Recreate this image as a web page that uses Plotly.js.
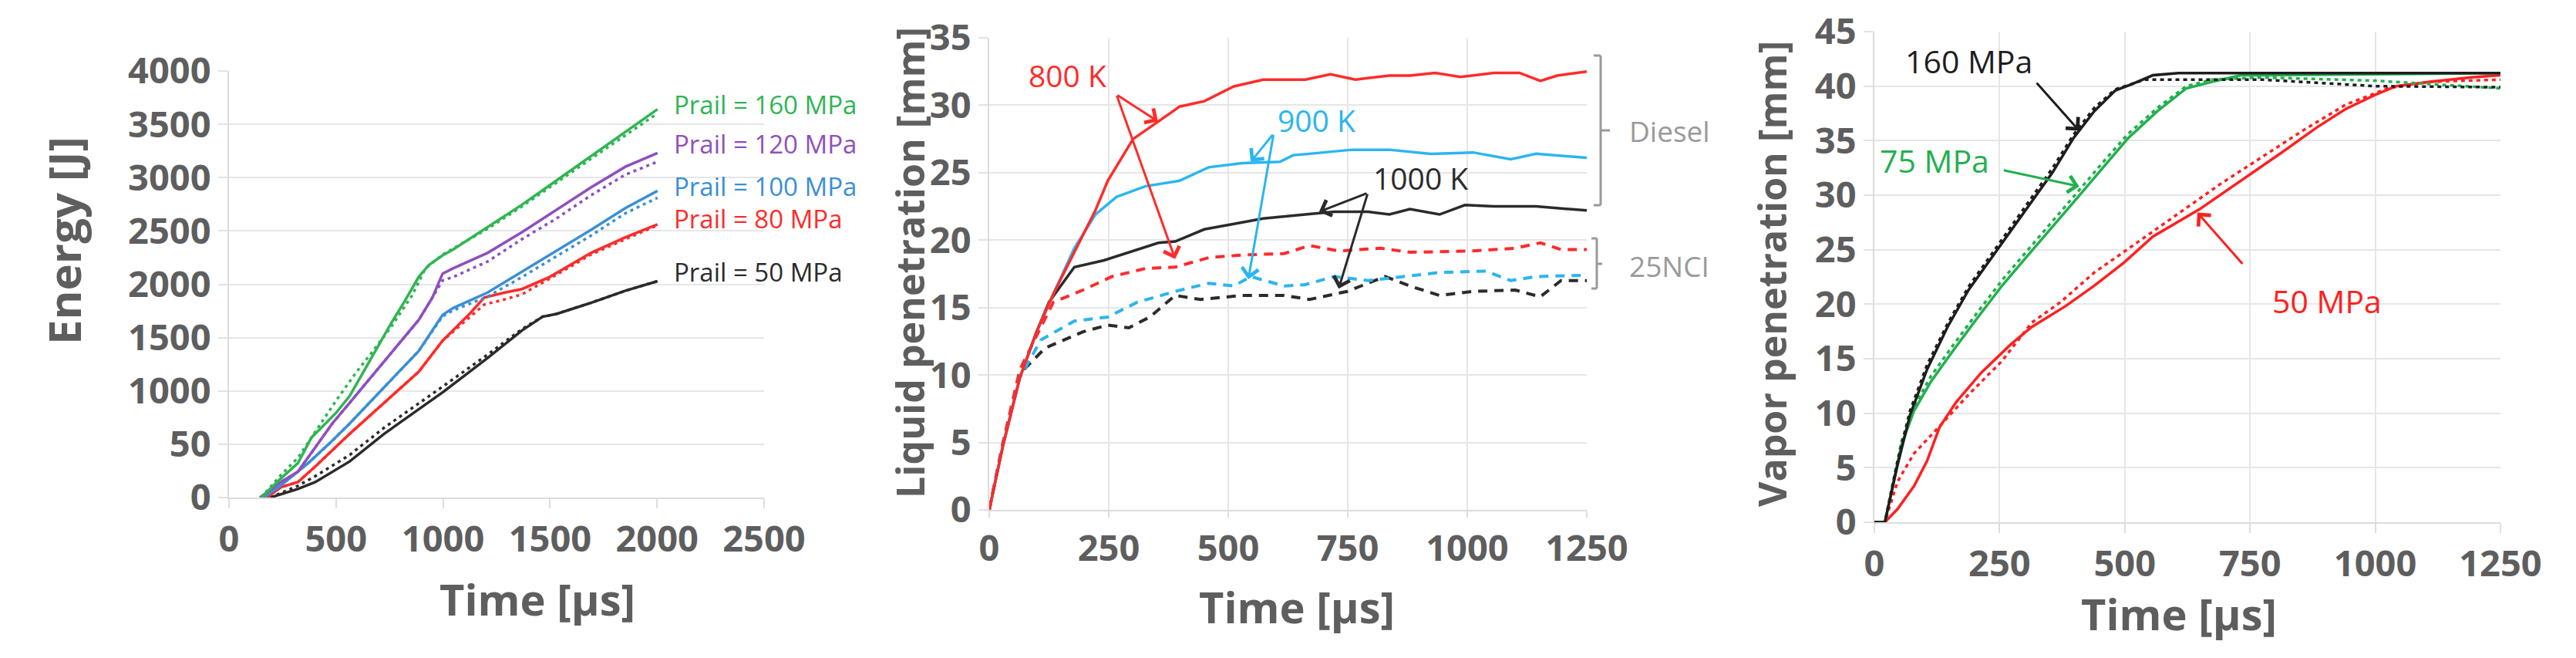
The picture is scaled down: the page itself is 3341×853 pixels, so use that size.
<!DOCTYPE html>
<html>
<head>
<meta charset="utf-8">
<script src="https://cdn.plot.ly/plotly-3.0.1.min.js"></script>
<style>html,body{margin:0;padding:0;background:#fff;}#chart{width:3341px;height:853px;}</style>
</head>
<body>
<div id="chart"></div>
<script>
// ---------- Panel 1: Energy vs time ----------
const e160_t = [150,242,322,386,435,499,564,628,692,757,821,886,934,998,1047,1208,1369,1530,1691,1852,2002];
const e160_s = [0,178,323,565,662,792,953,1179,1405,1632,1842,2068,2181,2271,2326,2536,2746,2973,3199,3425,3641];
const e160_dt = [150,242,322,403,499,596,660,757,854,918,998,1208,1369,1691,2002];
const e160_d = [0,210,372,614,905,1179,1341,1599,1890,2149,2278,2520,2730,3176,3602];

const e120_t = [145,242,322,403,483,564,725,886,950,998,1047,1208,1369,1530,1691,1852,2002];
const e120_s = [0,145,242,468,695,889,1276,1664,1874,2100,2149,2294,2488,2698,2908,3102,3231];
const e120_d = [0,145,242,468,695,889,1276,1664,1874,2036,2068,2213,2423,2617,2834,3028,3150];

const e100_t = [161,242,370,483,564,725,886,998,1047,1208,1369,1530,1691,1852,2002];
const e100_s = [0,113,323,533,695,1034,1373,1712,1777,1922,2116,2310,2510,2714,2876];
const e100_d = [0,113,323,533,695,1034,1373,1700,1755,1884,2068,2262,2456,2666,2811];

const e80_t = [177,242,322,403,564,725,886,998,1127,1192,1288,1369,1498,1691,1852,2002];
const e80_s = [0,97,145,291,598,889,1179,1470,1729,1874,1922,1955,2068,2294,2440,2562];
const e80_d = [0,97,145,291,598,889,1179,1470,1700,1809,1858,1906,2052,2278,2423,2553];

const e50_t = [193,322,403,564,725,886,998,1208,1369,1465,1530,1691,1852,2002];
const e50_s = [0,81,145,339,598,824,986,1309,1567,1696,1722,1826,1939,2029];
const e50_d = [0,110,200,400,655,880,1040,1340,1580,1696,1722,1826,1939,2029];

const p1_ytickvals = [0,500,1000,1500,2000,2500,3000,3500,4000];
const p1_yticktext = ['0','50','1000','1500','2000','2500','3000','3500','4000'];
const p1_xtickvals = [0,500,1000,1500,2000,2500];
const p1_labels = ['Prail = 160 MPa','Prail = 120 MPa','Prail = 100 MPa','Prail = 80 MPa','Prail = 50 MPa'];
const p1_label_y = [3682,3313,2922,2618,2119];

// ---------- Panel 2: Liquid penetration ----------
const l800d_t = [0,29,64,99,134,178,222,248,301,354,398,450,512,573,661,714,766,837,880,933,986,1056,1109,1153,1188,1250];
const l800d   = [0,4.8,9.8,13.2,16.0,19.1,22.2,24.4,27.5,28.8,29.9,30.3,31.4,31.9,31.9,32.3,31.9,32.2,32.2,32.4,32.1,32.4,32.4,31.8,32.2,32.5];
const l900d_t = [0,29,64,99,134,178,222,266,327,398,459,529,608,636,670,758,837,924,1012,1091,1144,1250];
const l900d   = [0,4.8,9.8,13.2,16.0,19.4,21.9,23.2,24.0,24.4,25.4,25.7,25.8,26.3,26.4,26.7,26.7,26.4,26.5,26.0,26.4,26.1];
const l1000d_t = [0,29,64,99,125,178,240,292,354,389,450,512,573,661,722,793,837,880,942,995,1056,1144,1250];
const l1000d   = [0,4.8,9.8,13.2,15.4,18.0,18.5,19.1,19.8,19.9,20.8,21.2,21.6,21.9,22.1,22.1,21.9,22.3,21.9,22.6,22.5,22.5,22.2];
const l800n_t = [0,29,64,134,196,257,327,389,459,529,617,670,731,819,880,1012,1100,1153,1196,1250];
const l800n   = [0,5.0,10.4,15.4,16.3,17.3,17.9,18.0,18.7,18.9,19.0,19.6,19.2,19.4,19.1,19.2,19.4,19.8,19.3,19.3];
const l900n_t = [0,29,64,108,178,248,310,389,459,512,547,617,661,722,793,863,942,1039,1091,1144,1250];
const l900n   = [0,5.0,9.8,12.6,14.0,14.3,15.4,16.2,16.8,16.6,17.3,16.6,16.7,17.3,17.0,17.3,17.6,17.7,17.0,17.3,17.4];
const l1000n_t = [0,29,64,117,196,248,292,336,389,442,529,617,670,749,828,880,942,1012,1100,1153,1196,1250];
const l1000n   = [0,5.0,10.1,12.0,13.2,13.7,13.5,14.3,15.9,15.6,15.9,15.9,15.6,16.2,17.3,16.6,15.9,16.2,16.3,15.8,17.0,17.0];

const p2_labels = ['800 K','900 K','1000 K'];
const p2_label_x = [164,685,903];
const p2_label_y = [32.2,28.9,24.6];

// ---------- Panel 3: Vapor penetration ----------
const v160s_t = [0,21,46,71,105,146,188,230,272,314,356,397,439,481,515,556,607,1250];
const v160s   = [0,0,5.2,9.8,14.0,17.9,21.3,24.0,26.7,29.4,32.1,35.2,37.7,39.6,40.2,41.0,41.2,41.2];
const v160d_t = [0,21,46,71,105,146,188,230,272,314,356,397,439,481,515,540,774,1000,1250];
const v160d   = [0,0,5.5,10.2,14.4,18.2,21.6,24.3,27.0,29.8,32.5,35.5,38.0,39.7,40.2,40.6,40.6,40.0,39.9];
const v75s_t = [0,21,54,79,113,155,205,255,305,356,406,456,506,565,623,674,732,774,1250];
const v75s   = [0,0,7.1,10.2,12.9,15.6,18.7,21.7,24.4,27.1,29.8,32.5,35.2,37.7,39.8,40.4,41.0,41.0,41.2];
const v75d_t = [0,21,54,79,113,155,205,255,305,356,406,456,506,565,623,674,774,1000,1250];
const v75d   = [0,0,7.4,10.6,13.4,16.1,19.2,22.2,24.9,27.6,30.3,33.0,35.6,38.0,40.0,40.6,40.8,40.5,39.8];
const v50s_t = [0,21,46,79,105,130,163,213,272,314,381,439,498,556,649,732,816,883,941,1000,1042,1109,1192,1250];
const v50s   = [0,0,1.2,3.3,5.6,8.7,11.0,13.7,16.3,17.9,19.8,21.7,23.8,26.2,28.7,31.3,34.0,36.2,37.9,39.2,40.0,40.4,40.8,41.0];
const v50d_t = [0,21,46,79,130,188,255,314,372,439,523,607,690,774,858,941,1025,1109,1250];
const v50d   = [0,0,3.7,6.3,8.8,11.7,14.8,18.3,20.2,22.9,25.6,28.3,31.0,33.5,36.0,38.3,39.8,40.4,40.6];

const p3_labels = ['160 MPa','75 MPa','50 MPa'];
const p3_label_x = [188,120,904];
const p3_label_y = [42.3,33.2,20.3];

const ticks_25 = [0,250,500,750,1000,1250];

// ---------- colours ----------
const GREEN = '#2fb553', PURPLE = '#8f4fbf', BLUE = '#3a8fd6', RED = '#ff2b2b', BLACK = '#2b2b2b';
const CYAN = '#2bb5f0', GREEN3 = '#22b04e', RED3 = '#ff2020', BLACK3 = '#1e1e1e';
const GRID = '#e6e6e6', TICK = '#5e5e5e', GREYTXT = '#9a9a9a';

function ln(x, y, color, dash, xa, ya, w) {
  return {x: x, y: y, type: 'scatter', mode: 'lines', xaxis: xa, yaxis: ya,
          line: {color: color, width: w || 3.5, dash: dash || 'solid'}, hoverinfo: 'skip', showlegend: false};
}
const DOT1 = '4px,5px';
const DASH2 = '12px,9px';
const DOT3 = '5px,5px';

const traces = [
  ln(e50_t, e50_s, BLACK, 'solid', 'x', 'y'), ln(e50_t, e50_d, BLACK, DOT1, 'x', 'y'),
  ln(e80_t, e80_s, RED, 'solid', 'x', 'y'), ln(e80_t, e80_d, RED, DOT1, 'x', 'y'),
  ln(e100_t, e100_s, BLUE, 'solid', 'x', 'y'), ln(e100_t, e100_d, BLUE, DOT1, 'x', 'y'),
  ln(e120_t, e120_s, PURPLE, 'solid', 'x', 'y'), ln(e120_t, e120_d, PURPLE, DOT1, 'x', 'y'),
  ln(e160_t, e160_s, GREEN, 'solid', 'x', 'y'), ln(e160_dt, e160_d, GREEN, DOT1, 'x', 'y'),

  ln(l1000n_t, l1000n, BLACK, DASH2, 'x2', 'y2', 4), ln(l900n_t, l900n, CYAN, DASH2, 'x2', 'y2', 4), ln(l800n_t, l800n, RED, DASH2, 'x2', 'y2', 4),
  ln(l1000d_t, l1000d, BLACK, 'solid', 'x2', 'y2', 3.5), ln(l900d_t, l900d, CYAN, 'solid', 'x2', 'y2', 3.5), ln(l800d_t, l800d, RED, 'solid', 'x2', 'y2', 3.5),

  ln(v50d_t, v50d, RED3, DOT3, 'x3', 'y3'), ln(v50s_t, v50s, RED3, 'solid', 'x3', 'y3'),
  ln(v75d_t, v75d, GREEN3, DOT3, 'x3', 'y3'), ln(v75s_t, v75s, GREEN3, 'solid', 'x3', 'y3'),
  ln(v160d_t, v160d, BLACK3, DOT3, 'x3', 'y3'), ln(v160s_t, v160s, BLACK3, 'solid', 'x3', 'y3')
];

const TF = {family: 'Open Sans, sans-serif', size: 47, color: TICK, weight: 'bold'};
function xax(domain, range, tickvals, grid, anchor, tl) {
  return {domain: domain, range: range, anchor: anchor, tickvals: tickvals, showgrid: grid, gridcolor: GRID, gridwidth: 2,
          zeroline: false, showline: true, linecolor: '#dcdcdc', linewidth: 2, ticks: 'outside', ticklen: tl || 12,
          tickcolor: '#dedede', tickwidth: 2, tickfont: TF, fixedrange: true};
}
function yax(domain, range, tickvals, anchor, ticktext) {
  const a = {domain: domain, range: range, anchor: anchor, tickvals: tickvals, showgrid: true, gridcolor: GRID, gridwidth: 2,
          zeroline: false, showline: true, linecolor: '#dcdcdc', linewidth: 2, ticks: 'outside', ticklen: 12,
          tickcolor: '#e2e2e2', tickwidth: 2, tickfont: TF, fixedrange: true};
  if (ticktext) a.ticktext = ticktext;
  return a;
}
const W = 3341, H = 853;
const px = v => v / W, py = v => 1 - v / H;

const annotations = [];
function title(text, x, y, size, angle) {
  annotations.push({xref: 'paper', yref: 'paper', x: px(x), y: py(y), text: text, showarrow: false,
    xanchor: 'center', yanchor: 'middle', textangle: angle || 0,
    font: {family: 'Open Sans, sans-serif', size: size, color: '#5e5e5e', weight: 'bold'}});
}
title('Energy [J]', 82, 312, 58, -90);
title('Time [µs]', 697, 776, 56);
title('Liquid penetration [mm]', 1180, 341, 50, -90);
title('Time [µs]', 1682, 786, 56);
title('Vapor penetration [mm]', 2298, 355, 50, -90);
title('Time [µs]', 2826, 795, 56);

const p1_colors = [GREEN, PURPLE, BLUE, RED, BLACK];
p1_labels.forEach((t, i) => annotations.push({xref: 'x', yref: 'y', x: 2071, y: p1_label_y[i], text: t, showarrow: false,
  xanchor: 'left', yanchor: 'middle', font: {family: 'Open Sans, sans-serif', size: 33, color: p1_colors[i]}}));

const p2_colors = [RED, CYAN, BLACK];
p2_labels.forEach((t, i) => annotations.push({xref: 'x2', yref: 'y2', x: p2_label_x[i], y: p2_label_y[i], text: t, showarrow: false,
  xanchor: 'center', yanchor: 'middle', font: {family: 'Open Sans, sans-serif', size: 39, color: p2_colors[i]}}));
const p3_colors = [BLACK3, GREEN3, RED3];
p3_labels.forEach((t, i) => annotations.push({xref: 'x3', yref: 'y3', x: p3_label_x[i], y: p3_label_y[i], text: t, showarrow: false,
  xanchor: 'center', yanchor: 'middle', font: {family: 'Open Sans, sans-serif', size: 41, color: p3_colors[i]}}));

// group labels (Diesel / 25NCI)
annotations.push({xref: 'paper', yref: 'paper', x: px(2165), y: py(169), text: 'Diesel', showarrow: false,
  xanchor: 'center', yanchor: 'middle', font: {family: 'Open Sans, sans-serif', size: 37, color: GREYTXT}});
annotations.push({xref: 'paper', yref: 'paper', x: px(2165), y: py(344), text: '25NCI', showarrow: false,
  xanchor: 'center', yanchor: 'middle', font: {family: 'Open Sans, sans-serif', size: 37, color: GREYTXT}});

// arrows [axis, tipx, tipy, tailx, taily, color]
const arrows = [
  ['2', 353, 28.8, 266, 30.8, RED], ['2', 389, 18.6, 266, 30.8, RED],
  ['2', 547, 25.8, 595, 27.9, CYAN], ['2', 542, 17.1, 595, 27.9, CYAN],
  ['2', 690, 22.1, 792, 23.5, BLACK], ['2', 731, 16.4, 792, 23.5, BLACK],
  ['3', 409, 35.9, 322, 40.4, BLACK3], ['3', 409, 30.8, 256, 32.3, GREEN3], ['3', 645, 28.4, 737, 23.6, RED3]
];
arrows.forEach(a => annotations.push({xref: 'x' + a[0], yref: 'y' + a[0], axref: 'x' + a[0], ayref: 'y' + a[0],
  x: a[1], y: a[2], ax: a[3], ay: a[4], text: '', showarrow: true, arrowhead: 4, arrowsize: 1.4,
  arrowwidth: 3, arrowcolor: a[5], standoff: 0}));

// brackets
const BR = '#9a9a9a';
function seg(x0, y0, x1, y1) {
  return {type: 'line', xref: 'paper', yref: 'paper', x0: px(x0), y0: py(y0), x1: px(x1), y1: py(y1),
    line: {color: BR, width: 3}};
}
const shapes = [
  seg(2076, 72, 2076, 266), seg(2067, 72, 2076, 72), seg(2067, 266, 2076, 266), seg(2076, 169, 2088, 169),
  seg(2071, 309, 2071, 374), seg(2064, 309, 2071, 309), seg(2064, 374, 2071, 374), seg(2071, 342, 2078, 342)
];

const layout = {
  width: W, height: H, margin: {l: 0, r: 0, t: 0, b: 0}, paper_bgcolor: '#fff', plot_bgcolor: '#fff',
  showlegend: false,
  xaxis: xax([px(297), px(991)], [0, 2500], p1_xtickvals, false, 'y'),
  yaxis: yax([py(645), py(92)], [0, 4000], p1_ytickvals, 'x', p1_yticktext),
  xaxis2: xax([px(1283), px(2058)], [0, 1250], ticks_25, true, 'y2', 8),
  yaxis2: yax([py(661), py(49)], [0, 35], [0,5,10,15,20,25,30,35], 'x2'),
  xaxis3: xax([px(2431), px(3243)], [0, 1250], ticks_25, true, 'y3'),
  yaxis3: yax([py(677), py(41)], [0, 45], [0,5,10,15,20,25,30,35,40,45], 'x3'),
  annotations: annotations, shapes: shapes
};

Plotly.newPlot('chart', traces, layout, {staticPlot: true, displayModeBar: false});
</script>
</body>
</html>
